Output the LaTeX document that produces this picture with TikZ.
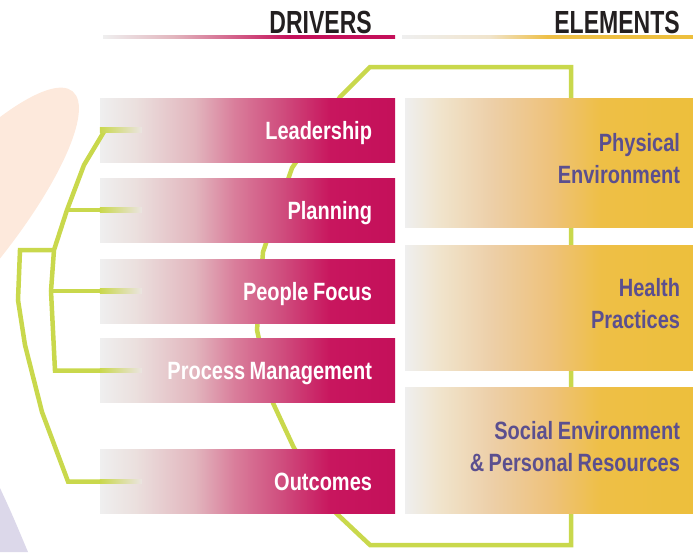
\documentclass[tikz,border=0pt]{standalone}
\usepackage{fontspec}
\newfontfamily\barfont{Liberation Sans}[FakeStretch=0.8]
\newfontfamily\headfont{Liberation Sans}[FakeStretch=0.72]
\usetikzlibrary{calc}

\definecolor{headink}{HTML}{231F20}
\definecolor{paleA}{HTML}{EFEFEF}
\definecolor{drvB}{HTML}{EBE0DE}
\definecolor{drvC}{HTML}{E2B6BE}
\definecolor{drvD}{HTML}{D97C9A}
\definecolor{drvE}{HTML}{CF4C7D}
\definecolor{drvF}{HTML}{C8165E}
\definecolor{drvred}{HTML}{C4105A}
\definecolor{elmB}{HTML}{F0E4CC}
\definecolor{elmC}{HTML}{EDCFA8}
\definecolor{elmD}{HTML}{EEC27C}
\definecolor{elmE}{HTML}{EEBF46}
\definecolor{elmgold}{HTML}{EDBF3C}
\definecolor{elmtext}{HTML}{5B4F8F}
\definecolor{vinegreen}{HTML}{C9D84C}
\definecolor{vinepale}{HTML}{EBE4E2}
\definecolor{peach}{HTML}{FDE9DC}
\definecolor{lavender}{HTML}{DCD8EA}

\pgfdeclarehorizontalshading{drvfade}{100bp}{color(0bp)=(paleA); color(25bp)=(paleA);
  color(31bp)=(drvB); color(41bp)=(drvC); color(48bp)=(drvD); color(56bp)=(drvE);
  color(64bp)=(drvF); color(75bp)=(drvred); color(100bp)=(drvred)}
\pgfdeclarehorizontalshading{elmfade}{100bp}{color(0bp)=(paleA); color(25bp)=(paleA);
  color(31bp)=(elmB); color(40bp)=(elmC); color(50bp)=(elmD); color(59bp)=(elmE);
  color(75bp)=(elmgold); color(100bp)=(elmgold)}
\pgfdeclarehorizontalshading{drvline}{100bp}{color(0bp)=(paleA); color(25bp)=(paleA);
  color(37bp)=(drvC); color(50bp)=(drvE); color(57bp)=(drvred); color(100bp)=(drvred)}
\pgfdeclarehorizontalshading{elmline}{100bp}{color(0bp)=(paleA); color(25bp)=(paleA);
  color(40bp)=(elmB); color(50bp)=(elmE); color(75bp)=(elmgold); color(100bp)=(elmgold)}

\tikzset{
  driver/.style={shade, shading=drvfade, minimum width=295pt, minimum height=64pt,
    inner sep=0pt, text width=249pt, align=right, text height=18pt, text depth=0pt,
    text=white, font=\barfont\bfseries\fontsize{25}{30}\selectfont,
    execute at begin node={\spaceskip=4.5pt\relax}},
  element/.style={shade, shading=elmfade, minimum width=288pt, inner sep=0pt,
    text width=262pt, align=right, text height=18pt, text depth=40pt,
    text=elmtext, font=\barfont\bfseries\fontsize{25}{32}\selectfont,
    execute at begin node={\spaceskip=4.5pt\relax}},
  heading/.style={inner sep=0pt, anchor=base east, text=headink,
    font=\headfont\bfseries\fontsize{32}{32}\selectfont},
  vine/.style={draw=vinegreen, line width=4.5pt},
  vinefade/.style={left color=vinegreen, right color=vinepale}
}

\begin{document}
\begin{tikzpicture}[x=1pt,y=-1pt]
  \useasboundingbox (0,0) rectangle (693,552);

  \fill[peach, rotate around={50:(-52,240)}] (-52,240) ellipse (194pt and 52pt);
  \fill[lavender] (0,488) .. controls (12,514) .. (28,552) -- (0,552) -- cycle;

  % loop behind the bars
  \coordinate (loopNE) at (571,67);
  \coordinate (loopSE) at (571,545);
  \draw[vine] (loopNE) -- (370,67) -- (340,97) -- (292,168) -- (263,252)
  -- (257,330) -- (273,403) -- (294,448) -- (336,513) -- (370,545) -- (loopSE) -- cycle;

  \node (lead)   at (247.5,130)   [driver] {Leadership};
  \node (plan)   at (247.5,210)   [driver] {Planning};
  \node (peop)   at (247.5,291)   [driver] {People Focus};
  \node (proc)   at (247.5,370.5) [driver] {Process Management};
  \node (outc)   at (247.5,481.5) [driver] {Outcomes};

  \node (phys)   at (549,162.5) [element, minimum height=129pt] {Physical\\Environment};
  \node (health) at (549,307.5) [element, minimum height=125pt] {Health\\Practices};
  \node (social) at (549,450)   [element, minimum height=126pt] {Social Environment\\\& Personal Resources};

  \node (drivers)  at (372,33) [heading] {DRIVERS};
  \node (elements) at (680,33) [heading] {ELEMENTS};
  \shade[shading=drvline] (103,35.5) rectangle (395,38.5);
  \shade[shading=elmline] (402,35.5) rectangle (693,38.5);

  % tree on the left
  \coordinate (tLead) at (105,130);
  \coordinate (tPlan) at (67,210);
  \coordinate (tFork) at (54,250);
  \coordinate (tPeop) at (51,291);
  \coordinate (tProc) at (55,370.5);
  \coordinate (tOutc) at (68,481.5);
  \draw[vine] (tLead) -- (84,165) -- (tPlan) -- (tFork) -- (tPeop) -- (tProc)
  -- (tProc -| proc.west);
  \draw[vine] (tPlan) -- (tPlan -| plan.west);
  \draw[vine] (tPeop) -- (tPeop -| peop.west);
  \draw[vine] (tFork) -- (20,250) -- (18,300) -- (25,345) -- (42,412) -- (tOutc)
  -- (tOutc -| outc.west);
  \foreach \b in {lead,plan,peop,proc,outc}
    \shade[vinefade] ($(\b.west)+(0,-2.25)$) rectangle ($(\b.west)+(42,2.25)$);
\end{tikzpicture}
\end{document}
